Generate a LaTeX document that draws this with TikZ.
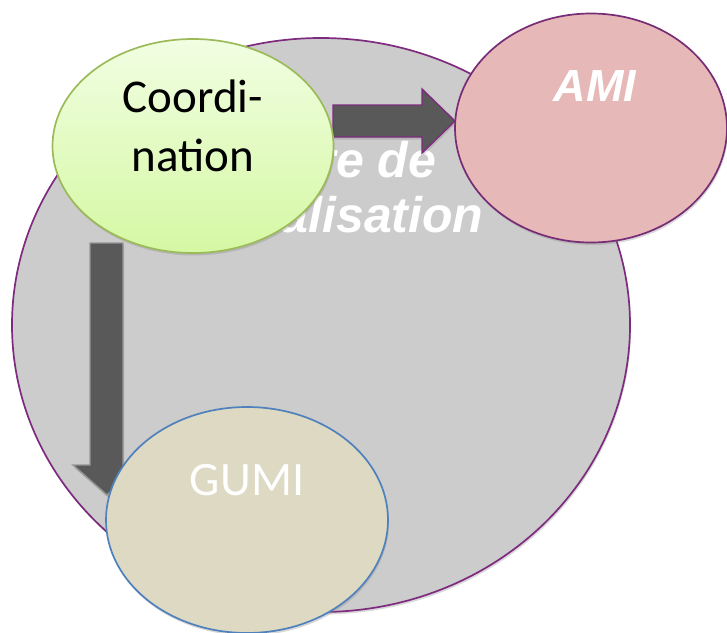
\documentclass[tikz,border=0pt]{standalone}
\usepackage{fontspec}
\setmainfont{Carlito}
\newfontfamily\arialfont{Liberation Sans}
\usetikzlibrary{shapes.geometric,shadows,calc}

\definecolor{centrefill}{HTML}{CCCCCC}
\definecolor{plum}{HTML}{7E2B7F}
\definecolor{coordtop}{HTML}{F1FEE2}
\definecolor{coordbot}{HTML}{D5F8A3}
\definecolor{coordline}{HTML}{9BBB59}
\definecolor{amifill}{HTML}{E6B8B7}
\definecolor{amiline}{HTML}{772C75}
\definecolor{gumifill}{HTML}{DDD9C3}
\definecolor{gumiline}{HTML}{4F81BD}
\definecolor{arrowgray}{HTML}{595959}
\definecolor{arrowline}{HTML}{969696}

\tikzset{
  softshadow/.style={drop shadow={shadow xshift=1pt,shadow yshift=-2.5pt,opacity=0.3}},
  bubble/.style={ellipse,inner sep=0pt,line width=1.7pt,softshadow},
  blockarrow/.style={fill=arrowgray,line width=1.4pt,line join=miter,softshadow},
}

\begin{document}
\begin{tikzpicture}[x=1pt,y=-1pt]
\useasboundingbox (0,0) rectangle (727,632);
% big circle and its title
\node (centre) [bubble,draw=plum,fill=centrefill,minimum width=618pt,minimum height=574pt] at (321,325) {};
\node (centretxt) [font=\fontsize{50}{55}\selectfont\arialfont\bfseries\itshape,text=white,align=center] at (321,187) {Centre de\\mutualisation};
% arrow ends
\coordinate (r1) at (333,121);
\coordinate (r2) at (455,121);
\coordinate (d1) at (107,243);
\coordinate (d2) at (107,495);
\draw[blockarrow,draw=plum] ($(r1)+(0,-16)$) -- ($(r2)+(-33,-16)$) -- ($(r2)+(-33,-32)$) -- (r2)
  -- ($(r2)+(-33,32)$) -- ($(r2)+(-33,16)$) -- ($(r1)+(0,16)$) -- cycle;
\draw[blockarrow,draw=arrowline] ($(d1)+(-17,0)$) -- ($(d2)+(-17,-30)$) -- ($(d2)+(-34,-30)$) -- (d2)
  -- ($(d2)+(33,-30)$) -- ($(d2)+(16,-30)$) -- ($(d1)+(16,0)$) -- cycle;
% small circles
\node (coord) [bubble,draw=coordline,top color=coordtop,bottom color=coordbot,minimum width=281pt,minimum height=214pt] at (193,146) {};
\node (coordtxt) [font=\fontsize{47}{59}\selectfont,align=center] at (193,126) {Coordi-\\nation};
\node (ami) [bubble,draw=amiline,fill=amifill,minimum width=272pt,minimum height=229pt] at (591,128) {};
\node (amitxt) [font=\fontsize{45}{54}\selectfont\arialfont\bfseries\itshape,text=white,anchor=base] at (595,101) {AMI};
\node (gumi) [bubble,draw=gumiline,fill=gumifill,minimum width=282pt,minimum height=226pt] at (247,520) {};
\node (gumitxt) [font=\fontsize{48}{58}\selectfont,text=white,anchor=base] at (247,495) {GUMI};
\end{tikzpicture}
\end{document}
